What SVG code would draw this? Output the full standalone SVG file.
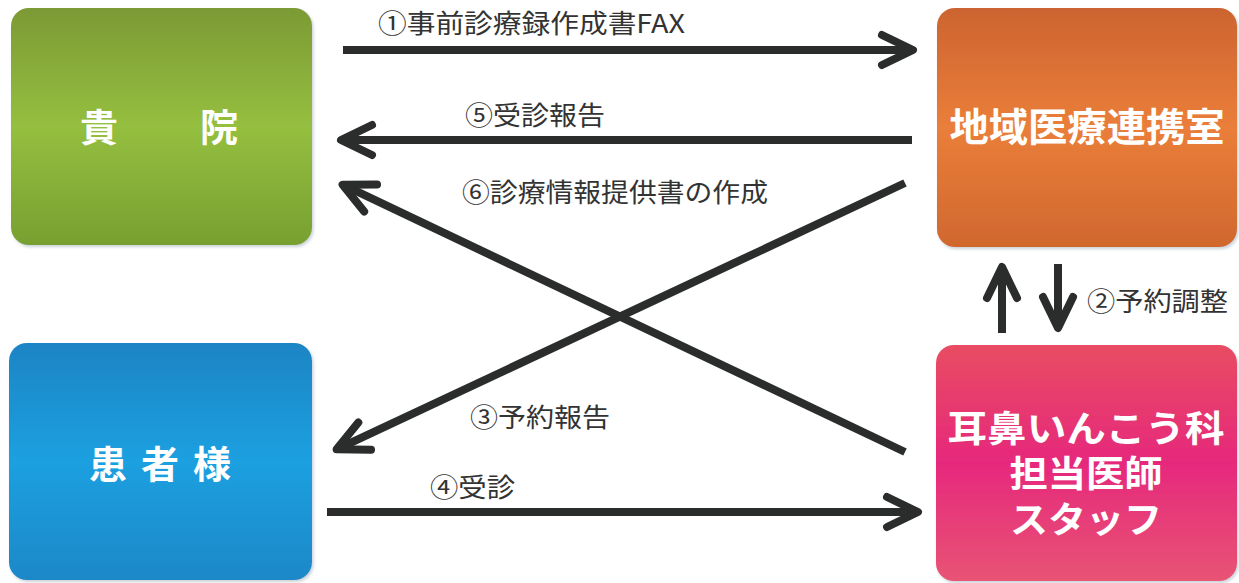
<svg xmlns="http://www.w3.org/2000/svg" width="1239" height="583" viewBox="0 0 1239 583">
<style>
.box{stroke:none}
.btxt{font-family:"Noto Sans CJK JP","Noto Sans CJK SC",sans-serif;font-weight:700;fill:#ffffff}
.lbl{font-family:"Noto Sans CJK JP","Noto Sans CJK SC",sans-serif;font-weight:400;font-size:26px;fill:#333333}
.conn{fill:none;stroke:#2b2d2d;stroke-width:8;stroke-linecap:butt}
</style>
<defs>
<linearGradient id="gGreen" x1="0" y1="0" x2="0" y2="1">
<stop offset="0" stop-color="#7c9a35"/><stop offset="0.5" stop-color="#95bf3f"/><stop offset="1" stop-color="#77a031"/>
</linearGradient>
<linearGradient id="gOrange" x1="0" y1="0" x2="0" y2="1">
<stop offset="0" stop-color="#cc6430"/><stop offset="0.5" stop-color="#ea7e3a"/><stop offset="1" stop-color="#d0682e"/>
</linearGradient>
<linearGradient id="gBlue" x1="0" y1="0" x2="0" y2="1">
<stop offset="0" stop-color="#1a84c4"/><stop offset="0.5" stop-color="#1fa0e0"/><stop offset="1" stop-color="#1a88c8"/>
</linearGradient>
<linearGradient id="gPink" x1="0" y1="0" x2="0" y2="1">
<stop offset="0" stop-color="#e84c62"/><stop offset="0.5" stop-color="#e6287c"/><stop offset="1" stop-color="#e85474"/>
</linearGradient>
<filter id="sh" x="-5%" y="-5%" width="110%" height="110%">
<feDropShadow dx="1.5" dy="2" stdDeviation="1.5" flood-color="#8a9aa8" flood-opacity="0.45"/>
</filter>
<marker id="ah" markerUnits="userSpaceOnUse" markerWidth="60" markerHeight="60" viewBox="-40 -30 60 60" refX="0" refY="0" orient="auto" overflow="visible">
<path d="M-31,-15 L0,0 L-31,15" fill="none" stroke="#2b2d2d" stroke-width="8" stroke-linecap="round" stroke-linejoin="round"/>
</marker>
</defs>
<rect width="1239" height="583" fill="#ffffff"/>

<g id="node-kiin">
<rect class="box" x="11" y="8" width="301" height="237" rx="18" fill="url(#gGreen)" filter="url(#sh)"/>
<text class="btxt" font-size="38" x="80 130 200" y="141">貴　院</text>
</g>

<g id="node-chiiki">
<rect class="box" x="937" y="8" width="300" height="239" rx="18" fill="url(#gOrange)" filter="url(#sh)"/>
<text class="btxt" font-size="39" x="1087" y="141" text-anchor="middle" textLength="275" lengthAdjust="spacingAndGlyphs">地域医療連携室</text>
</g>

<g id="node-kanja">
<rect class="box" x="9" y="343" width="303" height="237" rx="18" fill="url(#gBlue)" filter="url(#sh)"/>
<text class="btxt" font-size="38" x="160" y="478" text-anchor="middle" textLength="142" lengthAdjust="spacing">患者様</text>
</g>

<g id="node-jibika">
<rect class="box" x="936" y="345" width="301" height="236" rx="18" fill="url(#gPink)" filter="url(#sh)"/>
<text class="btxt" font-size="36" text-anchor="middle"><tspan x="1086" y="442" textLength="277" lengthAdjust="spacingAndGlyphs">耳鼻いんこう科</tspan><tspan x="1086" y="487" textLength="153" lengthAdjust="spacingAndGlyphs">担当医師</tspan><tspan x="1086" y="533" textLength="152" lengthAdjust="spacingAndGlyphs">スタッフ</tspan></text>
</g>

<g id="connectors">
<line class="conn" x1="343" y1="50" x2="913" y2="50" marker-end="url(#ah)"/>
<line class="conn" x1="912" y1="140" x2="341" y2="140" marker-end="url(#ah)"/>
<line class="conn" x1="905" y1="452" x2="342.6" y2="184.7" marker-end="url(#ah)"/>
<line class="conn" x1="905" y1="183" x2="336.6" y2="449.3" marker-end="url(#ah)"/>
<line class="conn" x1="327" y1="512" x2="918" y2="512" marker-end="url(#ah)"/>
<line class="conn" x1="1002" y1="333" x2="1002" y2="267" marker-end="url(#ah)"/>
<line class="conn" x1="1058" y1="264" x2="1058" y2="328" marker-end="url(#ah)"/>
<text class="lbl" x="378" y="33" textLength="307" lengthAdjust="spacingAndGlyphs">①事前診療録作成書FAX</text>
<text class="lbl" x="465" y="125" textLength="140" lengthAdjust="spacingAndGlyphs">⑤受診報告</text>
<text class="lbl" x="462" y="202" textLength="306" lengthAdjust="spacingAndGlyphs">⑥診療情報提供書の作成</text>
<text class="lbl" x="470" y="427" textLength="140" lengthAdjust="spacingAndGlyphs">③予約報告</text>
<text class="lbl" x="430" y="497" textLength="85" lengthAdjust="spacingAndGlyphs">④受診</text>
<text class="lbl" x="1087" y="311" textLength="141" lengthAdjust="spacingAndGlyphs">②予約調整</text>
</g>
</svg>
